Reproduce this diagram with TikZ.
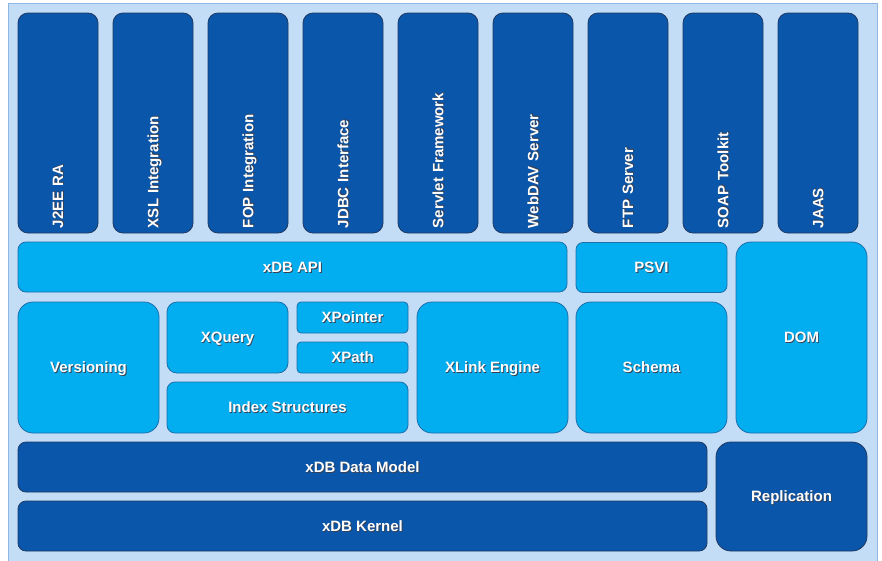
\documentclass[tikz,border=0pt]{standalone}
\usepackage{fontspec}
\setmainfont{Liberation Sans}
\definecolor{panelfill}{RGB}{195,221,247}
\definecolor{panelline}{RGB}{140,182,227}
\definecolor{darkfill}{RGB}{10,86,170}
\definecolor{darkline}{RGB}{30,58,100}
\definecolor{lightfill}{RGB}{2,174,239}
\definecolor{lightline}{RGB}{30,110,170}
\definecolor{txtshadow}{RGB}{55,65,85}
\newcommand{\shd}[1]{\makebox[0pt][l]{\hspace{0.9pt}\raisebox{-0.9pt}{\color{txtshadow}#1}}#1}
\tikzset{box/.style = {rectangle, inner sep=0pt, text=white, text depth=0pt,
                       font=\fontsize{15}{17}\selectfont\bfseries},
         darkbox/.style = {box, fill=darkfill, draw=darkline, line width=0.8pt},
         lightbox/.style = {box, fill=lightfill, draw=lightline, line width=0.8pt},
         topbox/.style = {darkbox, rotate=90, minimum width=220pt, minimum height=80pt,
                          rounded corners=10pt, text width=210pt, align=left}}

\begin{document}
\begin{tikzpicture}[x=1pt,y=-1pt]
\useasboundingbox (0,0) rectangle (882,560);
\draw[draw=panelline, fill=panelfill, line width=1pt] (8,3) rectangle (877,565);
% top row
\node[topbox] (j2ee) at (58,123) {\shd{J2EE RA}};
\node[topbox] (xsl) at (153,123) {\shd{XSL Integration}};
\node[topbox] (fop) at (248,123) {\shd{FOP Integration}};
\node[topbox] (jdbc) at (343,123) {\shd{JDBC Interface}};
\node[topbox] (servlet) at (438,123) {\shd{Servlet Framework}};
\node[topbox] (webdav) at (533,123) {\shd{WebDAV Server}};
\node[topbox] (ftp) at (628,123) {\shd{FTP Server}};
\node[topbox] (soap) at (723,123) {\shd{SOAP Toolkit}};
\node[topbox] (jaas) at (818,123) {\shd{JAAS}};
% middle
\node[lightbox, minimum width=549pt, minimum height=50pt, rounded corners=8pt] (api) at (292.5,267) {\shd{xDB API}};
\node[lightbox, minimum width=151pt, minimum height=50pt, rounded corners=7pt] (psvi) at (651.5,267.5) {\shd{PSVI}};
\node[lightbox, minimum width=131pt, minimum height=191pt, rounded corners=15pt] (dom) at (801.5,337.5) {\shd{DOM}};
\node[lightbox, minimum width=141pt, minimum height=131pt, rounded corners=15pt] (versioning) at (88.5,367.5) {\shd{Versioning}};
\node[lightbox, minimum width=121pt, minimum height=71pt, rounded corners=10pt] (xquery) at (227.5,337.5) {\shd{XQuery}};
\node[lightbox, minimum width=111pt, minimum height=31pt, rounded corners=4pt] (xpointer) at (352.5,317.5) {\shd{XPointer}};
\node[lightbox, minimum width=111pt, minimum height=31pt, rounded corners=4pt] (xpath) at (352.5,357.5) {\shd{XPath}};
\node[lightbox, minimum width=241pt, minimum height=51pt, rounded corners=8pt] (index) at (287.5,407.5) {\shd{Index Structures}};
\node[lightbox, minimum width=151pt, minimum height=131pt, rounded corners=15pt] (xlink) at (492.5,367.5) {\shd{XLink Engine}};
\node[lightbox, minimum width=151pt, minimum height=131pt, rounded corners=15pt] (schema) at (651.5,367.5) {\shd{Schema}};
% bottom
\node[darkbox, minimum width=689pt, minimum height=50pt, rounded corners=8pt] (datamodel) at (362.5,467) {\shd{xDB Data Model}};
\node[darkbox, minimum width=689pt, minimum height=50pt, rounded corners=8pt] (kernel) at (362.5,526) {\shd{xDB Kernel}};
\node[darkbox, minimum width=151pt, minimum height=109pt, rounded corners=15pt] (replication) at (791.5,496.5) {\shd{Replication}};
\end{tikzpicture}
\end{document}
